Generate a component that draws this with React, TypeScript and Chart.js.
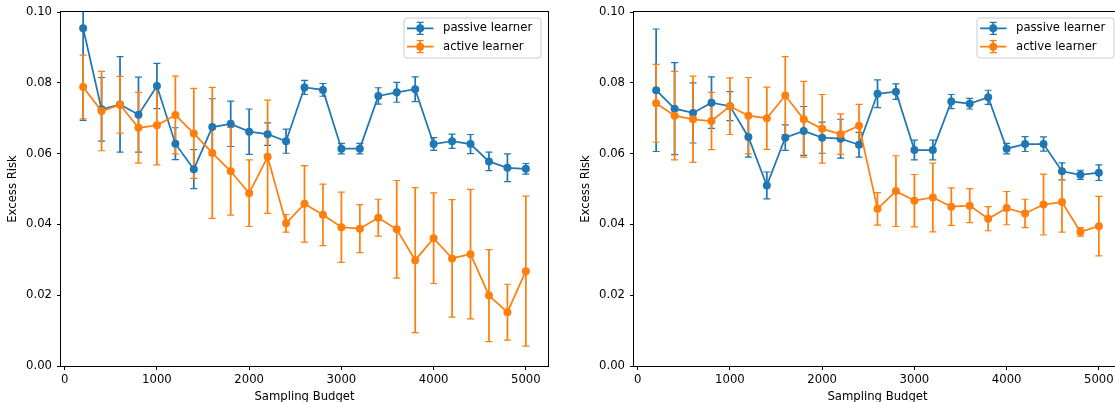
import React, { useEffect, useRef } from "react";
import { Chart, registerables } from "chart.js";

Chart.register(...registerables);

// ---- data ----
const budgets = [200, 400, 600, 800, 1000, 1200, 1400, 1600, 1800, 2000, 2200, 2400, 2600, 2800, 3000, 3200, 3400, 3600, 3800, 4000, 4200, 4400, 4600, 4800, 5000];

const leftPassive = [0.0954, 0.0725, 0.0739, 0.0710, 0.0791, 0.0628, 0.0556, 0.0675, 0.0684, 0.0662, 0.0655, 0.0635, 0.0787, 0.0780, 0.0614, 0.0614, 0.0763, 0.0773, 0.0782, 0.0627, 0.0635, 0.0627, 0.0578, 0.0560, 0.0557];
const leftPassiveErr = [0.026, 0.009, 0.0135, 0.0106, 0.0064, 0.0045, 0.0055, 0.008, 0.0064, 0.0064, 0.0032, 0.0034, 0.002, 0.0018, 0.0015, 0.0015, 0.0023, 0.0028, 0.0035, 0.0018, 0.002, 0.0027, 0.0026, 0.0039, 0.0015];
const leftActive = [0.0788, 0.0720, 0.0738, 0.0673, 0.0680, 0.0709, 0.0657, 0.0602, 0.0550, 0.0488, 0.0591, 0.0403, 0.0458, 0.0427, 0.0392, 0.0388, 0.0419, 0.0386, 0.0299, 0.0361, 0.0304, 0.0316, 0.0199, 0.0152, 0.0268];
const leftActiveErr = [0.009, 0.0112, 0.008, 0.010, 0.0112, 0.011, 0.0127, 0.0185, 0.0124, 0.0094, 0.016, 0.0025, 0.0108, 0.0087, 0.0099, 0.0068, 0.0052, 0.0138, 0.0205, 0.0128, 0.0166, 0.0183, 0.013, 0.0079, 0.0212];

const rightPassive = [0.0779, 0.0727, 0.0715, 0.0744, 0.0734, 0.0647, 0.0510, 0.0645, 0.0664, 0.0645, 0.0642, 0.0625, 0.0769, 0.0775, 0.0610, 0.0610, 0.0747, 0.0741, 0.0759, 0.0614, 0.0627, 0.0627, 0.0550, 0.0540, 0.0546];
const rightPassiveErr = [0.0173, 0.013, 0.0085, 0.0073, 0.0041, 0.0057, 0.0038, 0.0036, 0.0069, 0.0044, 0.0055, 0.0035, 0.0039, 0.0022, 0.0028, 0.0028, 0.002, 0.0015, 0.002, 0.0015, 0.0021, 0.002, 0.0024, 0.0013, 0.0022];
const rightActive = [0.0742, 0.0707, 0.0697, 0.0692, 0.0734, 0.0707, 0.0700, 0.0764, 0.0697, 0.0670, 0.0655, 0.0679, 0.0444, 0.0494, 0.0467, 0.0476, 0.0450, 0.0453, 0.0416, 0.0446, 0.0431, 0.0456, 0.0463, 0.0379, 0.0395];
const rightActiveErr = [0.011, 0.0125, 0.0122, 0.0081, 0.008, 0.0108, 0.0088, 0.011, 0.0107, 0.0097, 0.0057, 0.006, 0.0046, 0.01, 0.0074, 0.0097, 0.0053, 0.0048, 0.0034, 0.0047, 0.004, 0.0086, 0.0085, 0.0012, 0.0084];

const xTickValues = [0, 1000, 2000, 3000, 4000, 5000];
const yTickValues = [0, 0.02, 0.04, 0.06, 0.08, 0.1];
const seriesLabels = ["passive learner", "active learner"];
const xTitle = "Sampling Budget";
const yTitle = "Excess Risk";

// ---- styles ----
const BLUE = "#1f77b4";
const ORANGE = "#ff7f0e";
const FAMILY = "'DejaVu Sans', sans-serif";
const FS = 11.67;
const LW = 1.75;
const MR = 4;
const CAP = 3.5;

function makePlugins(errs: number[][]) {
  const errorBars = {
    id: "errorBars",
    beforeDatasetsDraw(chart: any) {
      const { ctx, chartArea: a, scales } = chart;
      const xs = scales.x;
      const ys = scales.y;
      ctx.save();
      ctx.beginPath();
      ctx.rect(a.left, a.top, a.right - a.left, a.bottom - a.top);
      ctx.clip();
      chart.data.datasets.forEach((ds: any, di: number) => {
        const e = errs[di];
        ctx.strokeStyle = ds.borderColor;
        ds.data.forEach((p: any, i: number) => {
          const px = xs.getPixelForValue(p.x);
          const yLo = ys.getPixelForValue(p.y - e[i]);
          const yHi = ys.getPixelForValue(p.y + e[i]);
          ctx.lineWidth = LW;
          ctx.beginPath();
          ctx.moveTo(px, yLo);
          ctx.lineTo(px, yHi);
          ctx.stroke();
          ctx.lineWidth = 1.2;
          ctx.beginPath();
          ctx.moveTo(px - CAP, yLo);
          ctx.lineTo(px + CAP, yLo);
          ctx.moveTo(px - CAP, yHi);
          ctx.lineTo(px + CAP, yHi);
          ctx.stroke();
        });
      });
      ctx.restore();
    },
  };

  const frameLegend = {
    id: "frameLegend",
    afterDraw(chart: any) {
      const { ctx, chartArea: a } = chart;
      ctx.save();
      ctx.strokeStyle = "#000";
      ctx.lineWidth = 1;
      ctx.strokeRect(a.left - 0.5, a.top - 0.5, a.right - a.left + 1, a.bottom - a.top + 1);

      // legend box
      const bw = 137;
      const bh = 40;
      const bx = a.right - 7 - bw;
      const by = a.top + 6;
      const r = 3;
      ctx.beginPath();
      ctx.moveTo(bx + r, by);
      ctx.lineTo(bx + bw - r, by);
      ctx.quadraticCurveTo(bx + bw, by, bx + bw, by + r);
      ctx.lineTo(bx + bw, by + bh - r);
      ctx.quadraticCurveTo(bx + bw, by + bh, bx + bw - r, by + bh);
      ctx.lineTo(bx + r, by + bh);
      ctx.quadraticCurveTo(bx, by + bh, bx, by + bh - r);
      ctx.lineTo(bx, by + r);
      ctx.quadraticCurveTo(bx, by, bx + r, by);
      ctx.closePath();
      ctx.fillStyle = "rgba(255,255,255,0.8)";
      ctx.fill();
      ctx.strokeStyle = "#cccccc";
      ctx.lineWidth = 1;
      ctx.stroke();

      chart.data.datasets.forEach((ds: any, i: number) => {
        const ry = by + 10.3 + i * 18.4;
        const mx = bx + 16.2;
        ctx.strokeStyle = ds.borderColor;
        ctx.lineWidth = LW;
        ctx.beginPath();
        ctx.moveTo(bx + 3, ry);
        ctx.lineTo(bx + 29.5, ry);
        ctx.moveTo(mx, ry - 6);
        ctx.lineTo(mx, ry + 6);
        ctx.stroke();
        ctx.lineWidth = 1.2;
        ctx.beginPath();
        ctx.moveTo(mx - CAP, ry - 6);
        ctx.lineTo(mx + CAP, ry - 6);
        ctx.moveTo(mx - CAP, ry + 6);
        ctx.lineTo(mx + CAP, ry + 6);
        ctx.stroke();
        ctx.fillStyle = ds.borderColor;
        ctx.beginPath();
        ctx.arc(mx, ry, MR, 0, Math.PI * 2);
        ctx.fill();
        ctx.fillStyle = "#000";
        ctx.font = `${FS}px ${FAMILY}`;
        ctx.textBaseline = "middle";
        ctx.textAlign = "left";
        ctx.fillText(ds.label, bx + 39, ry);
      });
      ctx.restore();
    },
  };
  return [errorBars, frameLegend];
}

function makeConfig(passive: number[], passiveErr: number[], active: number[], activeErr: number[]): any {
  const font = { family: FAMILY, size: FS };
  const grid = {
    display: true,
    drawOnChartArea: false,
    drawTicks: true,
    tickLength: 4,
    color: "#000",
    lineWidth: 1,
  };
  const mk = (vals: number[], label: string, color: string, order: number) => ({
    label,
    data: budgets.map((b, i) => ({ x: b, y: vals[i] })),
    borderColor: color,
    backgroundColor: color,
    pointBackgroundColor: color,
    pointBorderColor: color,
    pointBorderWidth: 0,
    pointRadius: MR,
    pointHoverRadius: MR,
    borderWidth: LW,
    tension: 0,
    fill: false,
    order,
  });
  return {
    type: "line",
    data: {
      datasets: [
        mk(passive, seriesLabels[0], BLUE, 2),
        mk(active, seriesLabels[1], ORANGE, 1),
      ],
    },
    options: {
      responsive: false,
      animation: false,
      devicePixelRatio: 1,
      events: [],
      layout: { padding: { top: 12, right: 12, left: 0, bottom: 0 } },
      plugins: {
        legend: { display: false },
        tooltip: { enabled: false },
      },
      scales: {
        x: {
          type: "linear",
          min: -40,
          max: 5240,
          afterBuildTicks: (s: any) => {
            s.ticks = xTickValues.map((v) => ({ value: v }));
          },
          afterFit: (s: any) => {
            s.height = 38;
          },
          ticks: {
            autoSkip: false,
            maxRotation: 0,
            padding: 3,
            color: "#000",
            font,
            callback: (v: any) => String(v),
          },
          grid,
          border: { display: false },
          title: {
            display: true,
            text: xTitle,
            color: "#000",
            font,
            padding: 0,
          },
        },
        y: {
          type: "linear",
          min: 0,
          max: 0.1,
          afterBuildTicks: (s: any) => {
            s.ticks = yTickValues.map((v) => ({ value: v }));
          },
          afterFit: (s: any) => {
            s.width = 61;
          },
          ticks: {
            padding: 5,
            color: "#000",
            font,
            callback: (v: any) => Number(v).toFixed(2),
          },
          grid,
          border: { display: false },
          title: {
            display: true,
            text: yTitle,
            color: "#000",
            font,
            padding: { top: 6, bottom: 0 },
          },
        },
      },
    },
    plugins: makePlugins([passiveErr, activeErr]),
  };
}

function Panel(props: { left: number; passive: number[]; passiveErr: number[]; active: number[]; activeErr: number[] }) {
  const ref = useRef<HTMLCanvasElement>(null);
  useEffect(() => {
    const chart = new Chart(ref.current as HTMLCanvasElement, makeConfig(props.passive, props.passiveErr, props.active, props.activeErr));
    return () => chart.destroy();
  }, []);
  return (
    <canvas
      ref={ref}
      width={560}
      height={404}
      style={{ position: "absolute", left: props.left, top: 0, width: 560, height: 404 }}
    />
  );
}

export default function App() {
  return (
    <div
      style={{
        position: "fixed",
        left: 0,
        top: 0,
        width: 1115,
        height: 402,
        overflow: "hidden",
        background: "#fff",
      }}
    >
      <Panel left={0} passive={leftPassive} passiveErr={leftPassiveErr} active={leftActive} activeErr={leftActiveErr} />
      <Panel left={573} passive={rightPassive} passiveErr={rightPassiveErr} active={rightActive} activeErr={rightActiveErr} />
    </div>
  );
}
